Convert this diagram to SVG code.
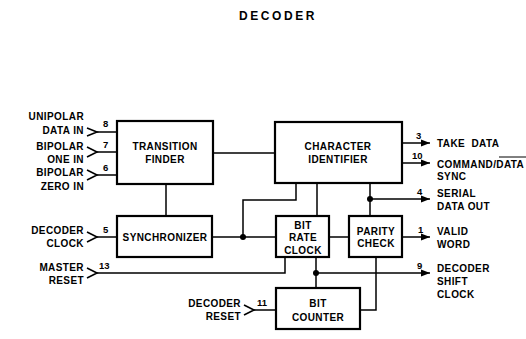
<svg xmlns="http://www.w3.org/2000/svg" width="526" height="339" viewBox="0 0 526 339">
<defs>
<marker id="arr" markerWidth="9" markerHeight="8" refX="9" refY="4" orient="auto" markerUnits="userSpaceOnUse"><path d="M0,0.5 L9,4 L0,7.5 Z" fill="#000"/></marker>
</defs>
<style>
text{font-family:"Liberation Sans",Arial,sans-serif;font-weight:bold;font-size:10px;fill:#000;letter-spacing:0.4px}
.c{text-anchor:middle}
.r{text-anchor:end}
.n{font-size:9.5px;letter-spacing:0}
.box{fill:#fff;stroke:#000;stroke-width:2.2}
.ln{fill:none;stroke:#000;stroke-width:1.5}
.chev{fill:none;stroke:#000;stroke-width:1.6}
.dot{fill:#000}
</style>
<rect width="526" height="339" fill="#fff"/>
<text x="278" y="20" class="c" style="font-size:12px;letter-spacing:2.6px">DECODER</text>

<g id="connectors">
<path class="ln" d="M97,132 H117 M97,152 H117 M97,175 H117"/>
<path class="ln" d="M97,237 H117"/>
<path class="ln" d="M97,273 H285 V257"/>
<path class="ln" d="M254,310 H276"/>
<path class="ln" d="M213,153 H275"/>
<path class="ln" d="M166,184 V216"/>
<path class="ln" d="M212,237 H276"/>
<path class="ln" d="M243,237 V200 H296 V183"/>
<path class="ln" d="M317,183 V216"/>
<path class="ln" d="M329,237 H349"/>
<path class="ln" d="M370,183 V216"/>
<path class="ln" d="M316,257 V288"/>
<path class="ln" d="M376,257 V310 H360"/>
<path class="ln" d="M402,143 H430" marker-end="url(#arr)"/>
<path class="ln" d="M402,163 H430" marker-end="url(#arr)"/>
<path class="ln" d="M370,199 H430" marker-end="url(#arr)"/>
<path class="ln" d="M402,237 H430" marker-end="url(#arr)"/>
<path class="ln" d="M316,273 H430" marker-end="url(#arr)"/>
<circle class="dot" cx="243" cy="237" r="3"/>
<circle class="dot" cx="370" cy="199" r="3"/>
<circle class="dot" cx="316" cy="273" r="3"/>
<path class="chev" d="M87,128 L97,132 L87,136"/>
<path class="chev" d="M87,147 L97,152 L87,157"/>
<path class="chev" d="M87,170 L97,175 L87,180"/>
<path class="chev" d="M87,232 L97,237 L87,242"/>
<path class="chev" d="M87,268 L97,273 L87,278"/>
<path class="chev" d="M244,305 L254,310 L244,315"/>
</g>

<g id="inputs">
<text x="84" y="120" class="r">UNIPOLAR</text>
<text x="84" y="134" class="r">DATA IN</text>
<text x="103" y="127" class="n">8</text>
<text x="84" y="150" class="r">BIPOLAR</text>
<text x="84" y="163" class="r">ONE IN</text>
<text x="103" y="148" class="n">7</text>
<text x="84" y="176" class="r">BIPOLAR</text>
<text x="84" y="190" class="r">ZERO IN</text>
<text x="103" y="171" class="n">6</text>
<text x="84" y="234" class="r">DECODER</text>
<text x="84" y="247" class="r">CLOCK</text>
<text x="103" y="233" class="n">5</text>
<text x="84" y="271" class="r">MASTER</text>
<text x="84" y="284" class="r">RESET</text>
<text x="99" y="269" class="n">13</text>
<text x="241" y="307" class="r">DECODER</text>
<text x="241" y="320" class="r">RESET</text>
<text x="257" y="306" class="n">11</text>
</g>

<g id="outputs">
<text x="416" y="139" class="n">3</text>
<text x="437" y="147" xml:space="preserve">TAKE  DATA</text>
<text x="412" y="159" class="n">10</text>
<text x="437" y="168">COMMAND/DATA</text>
<path d="M499,157 H526" stroke="#000" stroke-width="1"/>
<text x="437" y="180">SYNC</text>
<text x="417" y="195" class="n">4</text>
<text x="437" y="197">SERIAL</text>
<text x="437" y="210">DATA OUT</text>
<text x="418" y="233" class="n">1</text>
<text x="437" y="235">VALID</text>
<text x="437" y="248">WORD</text>
<text x="417" y="269" class="n">9</text>
<text x="437" y="272">DECODER</text>
<text x="437" y="285">SHIFT</text>
<text x="437" y="298">CLOCK</text>
</g>

<g id="transition-finder">
<rect class="box" x="117" y="121" width="96" height="63"/>
<text x="165" y="150" class="c">TRANSITION</text>
<text x="165" y="163" class="c">FINDER</text>
</g>
<g id="character-identifier">
<rect class="box" x="275" y="122" width="127" height="61"/>
<text x="338" y="150" class="c">CHARACTER</text>
<text x="338" y="163" class="c">IDENTIFIER</text>
</g>
<g id="synchronizer">
<rect class="box" x="117" y="216" width="95" height="41"/>
<text x="165" y="241" class="c">SYNCHRONIZER</text>
</g>
<g id="bit-rate-clock">
<rect class="box" x="276" y="216" width="53" height="41"/>
<text x="303" y="229" class="c">BIT</text>
<text x="303" y="241" class="c">RATE</text>
<text x="303" y="254" class="c">CLOCK</text>
</g>
<g id="parity-check">
<rect class="box" x="349" y="216" width="53" height="41"/>
<text x="376" y="235" class="c">PARITY</text>
<text x="376" y="247" class="c">CHECK</text>
</g>
<g id="bit-counter">
<rect class="box" x="276" y="288" width="84" height="41"/>
<text x="318" y="307" class="c">BIT</text>
<text x="318" y="321" class="c">COUNTER</text>
</g>
</svg>
